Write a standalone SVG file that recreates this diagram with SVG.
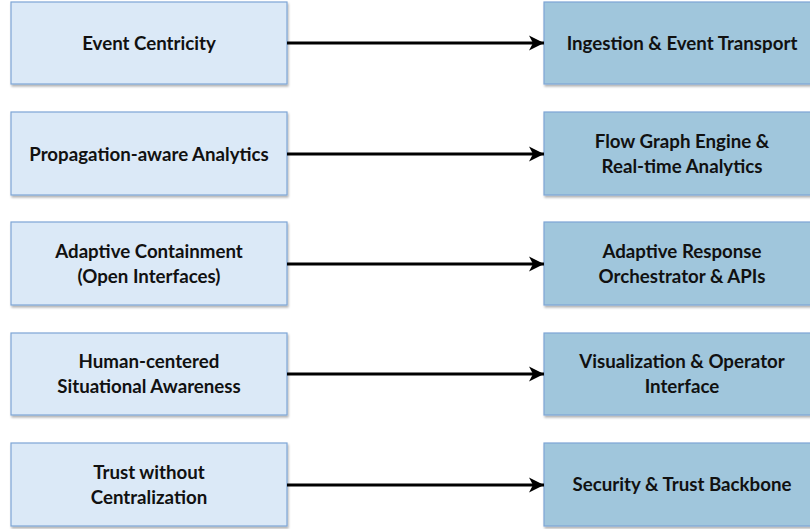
<svg xmlns="http://www.w3.org/2000/svg" width="810" height="529" viewBox="0 0 810 529">
<defs>
<filter id="sh" x="-5%" y="-5%" width="110%" height="120%">
<feDropShadow dx="1" dy="2" stdDeviation="1.2" flood-color="#000" flood-opacity="0.3"/>
</filter>
<marker id="ah" markerUnits="userSpaceOnUse" markerWidth="16" markerHeight="16" refX="15" refY="8" orient="auto" viewBox="0 0 16 16">
<path d="M0,0.5 L15,8 L0,15.5 L4,8 Z" fill="#000"/>
</marker>
</defs>
<style>
.l{fill:#dbe9f7;stroke:#7ea6d6;stroke-width:1.2;filter:url(#sh)}
.r{fill:#a0c6dc;stroke:#7ea6d6;stroke-width:1.2;filter:url(#sh)}
text{font-family:Lato,"Open Sans","Liberation Sans",sans-serif;font-weight:bold;font-size:18.7px;fill:#111;text-anchor:middle}
.c line{stroke:#000;stroke-width:3;marker-end:url(#ah)}
</style>
<rect width="810" height="529" fill="#fff"/>
<g id="l1"><rect class="l" x="11" y="2" width="276" height="82"/><text x="149" y="49.5">Event Centricity</text></g>
<g id="l2"><rect class="l" x="11" y="112" width="276" height="83"/><text x="149" y="160.5">Propagation-aware Analytics</text></g>
<g id="l3"><rect class="l" x="11" y="222" width="276" height="83"/><text x="149" y="258">Adaptive Containment</text><text x="149" y="283">(Open Interfaces)</text></g>
<g id="l4"><rect class="l" x="11" y="333" width="276" height="82"/><text x="149" y="368">Human-centered</text><text x="149" y="393">Situational Awareness</text></g>
<g id="l5"><rect class="l" x="11" y="443" width="276" height="83"/><text x="149" y="479">Trust without</text><text x="149" y="504">Centralization</text></g>
<g id="r1"><rect class="r" x="544" y="2" width="270" height="82"/><text x="682" y="49.5">Ingestion &amp; Event Transport</text></g>
<g id="r2"><rect class="r" x="544" y="112" width="270" height="83"/><text x="682" y="148">Flow Graph Engine &amp;</text><text x="682" y="173">Real-time Analytics</text></g>
<g id="r3"><rect class="r" x="544" y="222" width="270" height="83"/><text x="682" y="258">Adaptive Response</text><text x="682" y="283">Orchestrator &amp; APIs</text></g>
<g id="r4"><rect class="r" x="544" y="333" width="270" height="82"/><text x="682" y="368">Visualization &amp; Operator</text><text x="682" y="393">Interface</text></g>
<g id="r5"><rect class="r" x="544" y="443" width="270" height="83"/><text x="682" y="491">Security &amp; Trust Backbone</text></g>
<g id="connectors" class="c">
<line x1="287" y1="43" x2="544" y2="43"/>
<line x1="287" y1="154" x2="544" y2="154"/>
<line x1="287" y1="264" x2="544" y2="264"/>
<line x1="287" y1="374" x2="544" y2="374"/>
<line x1="287" y1="485" x2="544" y2="485"/>
</g>
</svg>
